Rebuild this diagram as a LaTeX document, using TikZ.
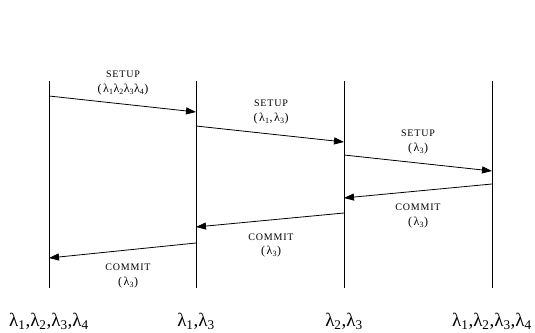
\documentclass[tikz,border=0pt]{standalone}
\usepackage{fontspec}
\setmainfont{Liberation Serif}
\newfontfamily\spacedfont[LetterSpace=8]{Liberation Serif}
\newfontfamily\subfont[LetterSpace=14]{Liberation Serif}
\usetikzlibrary{arrows.meta}
\newcommand{\lam}[1]{λ\textsubscript{#1}}
\begin{document}
\begin{tikzpicture}[x=1pt,y=-1pt,
  lifeline/.style={line width=0.8pt},
  msg/.style={line width=0.8pt,-{Triangle[length=10pt,width=7pt]}},
  lbl/.style={font=\spacedfont\fontsize{10}{11}\selectfont,inner sep=0pt,align=center},
  sub/.style={font=\subfont\fontsize{12}{13}\selectfont,inner sep=0pt},
  bot/.style={font=\fontsize{19}{20}\selectfont,inner sep=0pt}]
\useasboundingbox (0,0) rectangle (535,332);
% lifelines
\foreach \n/\x in {a/49,b/196,c/344,d/492}{
  \coordinate (\n top) at (\x,81);
  \coordinate (\n bot) at (\x,288);
  \draw[lifeline] (\n top) -- (\n bot);
}
% message endpoints
\coordinate (s1a) at (49,96);  \coordinate (s1b) at (196,112);
\coordinate (s2a) at (196,126); \coordinate (s2b) at (344,142);
\coordinate (s3a) at (344,155); \coordinate (s3b) at (492,171);
\coordinate (c1a) at (492,184); \coordinate (c1b) at (344,198);
\coordinate (c2a) at (344,213); \coordinate (c2b) at (196,227);
\coordinate (c3a) at (196,243); \coordinate (c3b) at (49,258);
\draw[msg] (s1a) -- (s1b);
\draw[msg] (s2a) -- (s2b);
\draw[msg] (s3a) -- (s3b);
\draw[msg] (c1a) -- (c1b);
\draw[msg] (c2a) -- (c2b);
\draw[msg] (c3a) -- (c3b);
% labels
\node[lbl] (l1) at (123,74) {SETUP};
\node[sub] (l1s) at (123,90) {(\lam{1}\lam{2}\lam{3}\lam{4})};
\node[lbl] (l2) at (271,103) {SETUP};
\node[sub] (l2s) at (271,119) {(\lam{1},\lam{3})};
\node[lbl] (l3) at (418,133) {SETUP};
\node[sub] (l3s) at (418,149) {(\lam{3})};
\node[lbl] (l4) at (418,207) {COMMIT};
\node[sub] (l4s) at (418,223) {(\lam{3})};
\node[lbl] (l5) at (271,237) {COMMIT};
\node[sub] (l5s) at (271,252) {(\lam{3})};
\node[lbl] (l6) at (128,267) {COMMIT};
\node[sub] (l6s) at (128,283) {(\lam{3})};
% bottom
\node[bot] (ba) at (49,321) {\lam{1},\lam{2},\lam{3},\lam{4}};
\node[bot] (bb) at (196,321) {\lam{1},\lam{3}};
\node[bot] (bc) at (344,321) {\lam{2},\lam{3}};
\node[bot] (bd) at (492,321) {\lam{1},\lam{2},\lam{3},\lam{4}};
\end{tikzpicture}
\end{document}
